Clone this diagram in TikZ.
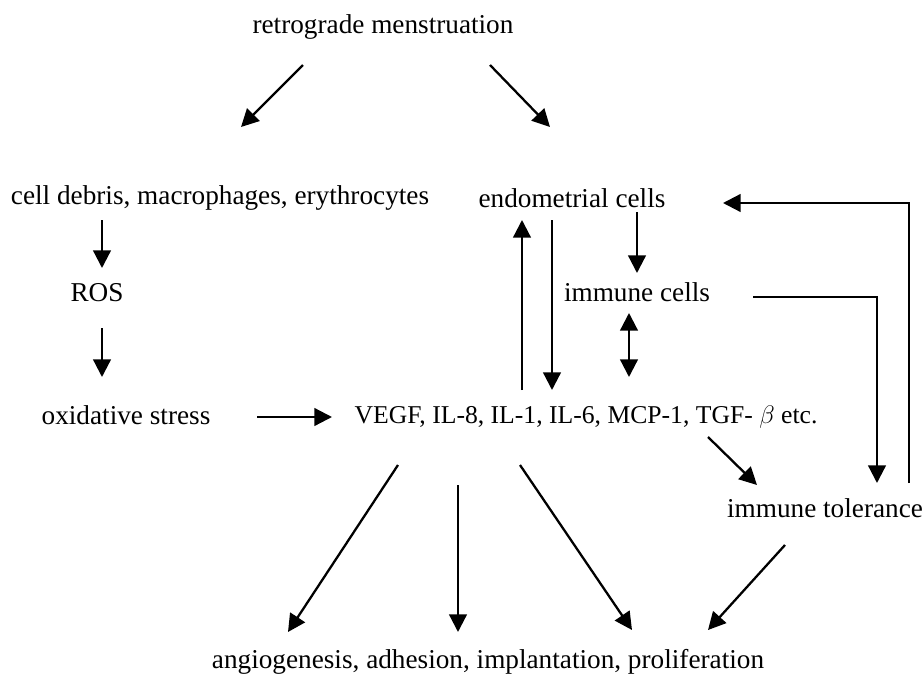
\documentclass[tikz,border=0pt]{standalone}
\usepackage{fontspec}
\setmainfont{Liberation Serif}
\usepackage{amsmath}
\usepackage{tikz}
\usetikzlibrary{arrows.meta}
\usetikzlibrary{positioning, calc}
\tikzset{
label text/.style = { draw = none, fill = none, inner sep = 1pt, font = \fontsize{15.5}{18}\selectfont },
flow/.style = { draw = black, line width = 1.3pt, -{Triangle[length = 10pt, width = 10pt]} },
both flow/.style = { draw = black, line width = 1.3pt, {Triangle[length = 10pt, width = 10pt]}-{Triangle[length = 10pt, width = 10pt]} },
}

\begin{document}
\begin{tikzpicture}[x={(0.02cm,0)}, y={(0,-0.02cm)}]
      \useasboundingbox (0,0) rectangle (924,683);
      \begin{scope}[every node/.style={label text}]
        \node (retro) at (383,27) {retrograde menstruation};
        \node (debris) at (220,198) {cell debris, macrophages, erythrocytes};
        \node (endo) at (572,198) {endometrial cells};
        \node (ros) at (97,293) {ROS};
        \node (immune) at (637,292) {immune cells};
        \node (oxid) at (126,415) {oxidative stress};
        \node[font=\fontsize{14.6}{18}\selectfont] (vegf) at (586,417) {VEGF, IL-8, IL-1, IL-6, MCP-1, TGF- $\beta$ etc.};
        \node (toler) at (825,508) {immune tolerance};
        \node (angio) at (488,662) {angiogenesis, adhesion, implantation, proliferation};
      \end{scope}
      \begin{scope}[every path/.style={flow}]
        \draw ($(retro)+(-80,38)$) -- ($(debris)+(21,-71)$);
        \draw ($(retro)+(107,38)$) -- ($(endo)+(-22,-71)$);
        \draw ($(debris)+(-118,22)$) -- ($(ros)+(5,-25)$);
        \draw ($(ros)+(5,35)$) -- ($(oxid)+(-24,-38)$);
        \draw ($(oxid)+(131,2)$) -- ($(vegf)+(-254,0)$);
        \draw ($(vegf)+(-64,-27)$) -- ($(endo)+(-50,22)$);
        \draw ($(endo)+(-20,22)$) -- ($(vegf)+(-34,-27)$);
        \draw ($(endo)+(65,14)$) -- ($(immune)+(0,-19)$);
        \draw[both flow] ($(immune)+(-8,21)$) -- ($(vegf)+(43,-40)$);
        \draw ($(immune)+(116,5)$) -| ($(toler)+(52,-25)$);
        \draw ($(toler)+(84,-25)$) |- ($(endo)+(151,5)$);
        \draw ($(vegf)+(122,20)$) -- ($(toler)+(-68,-23)$);
        \draw ($(vegf)+(-188,48)$) -- ($(angio)+(-200,-30)$);
        \draw ($(vegf)+(-128,68)$) -- ($(angio)+(-30,-30)$);
        \draw ($(vegf)+(-66,48)$) -- ($(angio)+(144,-32)$);
        \draw ($(toler)+(-40,37)$) -- ($(angio)+(220,-32)$);
      \end{scope}
    \end{tikzpicture}
\end{document}
